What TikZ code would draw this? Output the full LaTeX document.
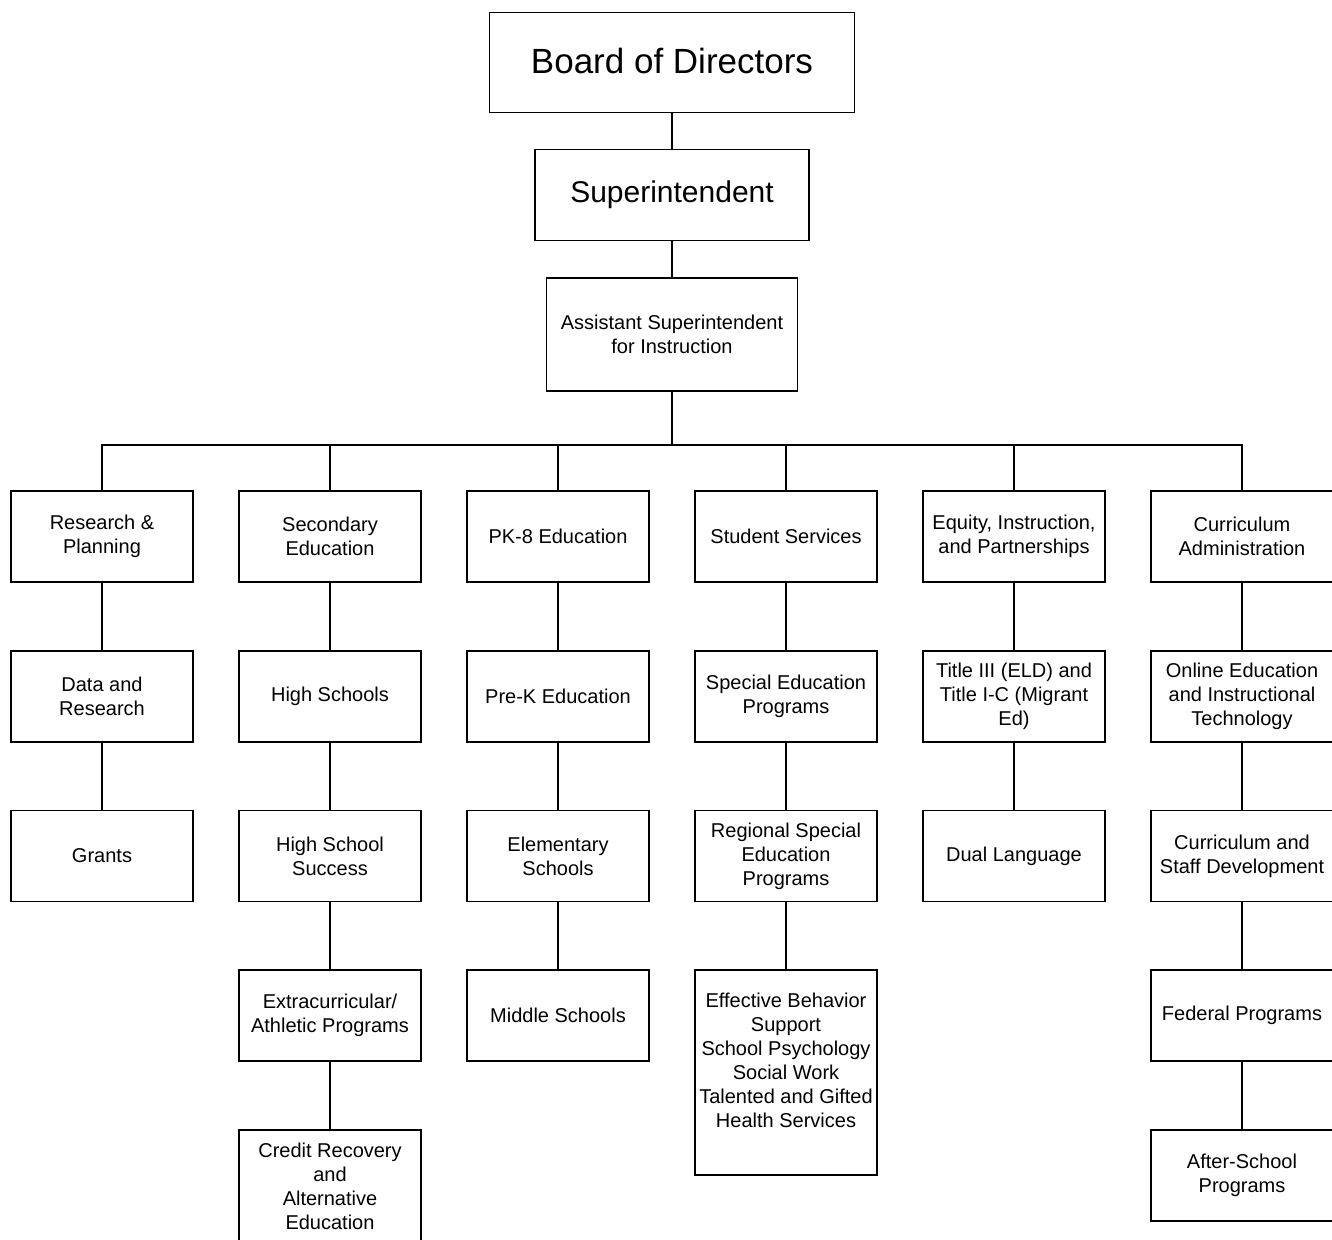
\documentclass[tikz,border=0pt]{standalone}
\usepackage{fontspec}
\setmainfont{Liberation Sans}
\begin{document}
\begin{tikzpicture}[x=1pt,y=-1pt,
  unit/.style={draw,line width=1.5pt,align=center,inner sep=1pt,minimum width=182pt,minimum height=91pt,font=\fontsize{20}{24}\selectfont},
  link/.style={line width=1.5pt}]
  \useasboundingbox (0,0) rectangle (1332,1239);
  \clip (0,0) rectangle (1332,1239);
  \node[unit,minimum width=365pt,minimum height=100pt,font=\fontsize{35}{42}\selectfont] (board) at (672,62.5) {\raisebox{3pt}{Board of Directors}};
  \node[unit,minimum width=274pt,minimum height=91pt,font=\fontsize{30}{36}\selectfont] (super) at (672,195) {Superintendent};
  \node[unit,minimum width=251pt,minimum height=113pt] (asst) at (672,334.5) {Assistant Superintendent\\for Instruction};
  \coordinate (bus) at (672,445);

  \node[unit] (research) at (102,536.5) {Research \&\\Planning};
  \node[unit] (data) at (102,696.5) {Data and\\Research};
  \node[unit] (grants) at (102,856) {Grants};

  \node[unit] (secondary) at (330,536.5) {Secondary\\Education};
  \node[unit] (high) at (330,696.5) {High Schools};
  \node[unit] (success) at (330,856) {High School\\Success};
  \node[unit] (extra) at (330,1015.5) {Extracurricular/\\Athletic Programs};
  \node[unit,minimum height=113pt] (credit) at (330,1186.5) {Credit Recovery\\and\\Alternative\\Education};

  \node[unit] (pk8) at (558,536.5) {PK-8 Education};
  \node[unit] (prek) at (558,696.5) {Pre-K Education};
  \node[unit] (elem) at (558,856) {Elementary\\Schools};
  \node[unit] (middle) at (558,1015.5) {Middle Schools};

  \node[unit] (student) at (786,536.5) {Student Services};
  \node[unit] (sped) at (786,696.5) {Special Education\\Programs};
  \node[unit] (regional) at (786,856) {Regional Special\\Education\\Programs};
  \node[unit,minimum height=205pt] (behavior) at (786,1072.5) {Effective Behavior\\Support\\School Psychology\\Social Work\\Talented and Gifted\\Health Services\\~};

  \node[unit] (equity) at (1014,536.5) {Equity, Instruction,\\and Partnerships};
  \node[unit] (title) at (1014,696.5) {Title III (ELD) and\\Title I-C (Migrant\\Ed)};
  \node[unit] (dual) at (1014,856) {Dual Language};

  \node[unit] (curadmin) at (1242,536.5) {Curriculum\\Administration};
  \node[unit] (online) at (1242,696.5) {Online Education\\and Instructional\\Technology};
  \node[unit] (staff) at (1242,856) {Curriculum and\\Staff Development};
  \node[unit] (federal) at (1242,1015.5) {Federal Programs};
  \node[unit] (after) at (1242,1175.5) {After-School\\Programs};

  \draw[link] (board) -- (super);
  \draw[link] (super) -- (asst);
  \draw[link] (asst) -- (bus);
  \draw[link] (bus) -| (research);
  \draw[link] (bus) -| (secondary);
  \draw[link] (bus) -| (pk8);
  \draw[link] (bus) -| (student);
  \draw[link] (bus) -| (equity);
  \draw[link] (bus) -| (curadmin);

  \draw[link] (research) -- (data);
  \draw[link] (data) -- (grants);
  \draw[link] (secondary) -- (high);
  \draw[link] (high) -- (success);
  \draw[link] (success) -- (extra);
  \draw[link] (extra) -- (credit);
  \draw[link] (pk8) -- (prek);
  \draw[link] (prek) -- (elem);
  \draw[link] (elem) -- (middle);
  \draw[link] (student) -- (sped);
  \draw[link] (sped) -- (regional);
  \draw[link] (regional) -- (behavior);
  \draw[link] (equity) -- (title);
  \draw[link] (title) -- (dual);
  \draw[link] (curadmin) -- (online);
  \draw[link] (online) -- (staff);
  \draw[link] (staff) -- (federal);
  \draw[link] (federal) -- (after);
\end{tikzpicture}
\end{document}
